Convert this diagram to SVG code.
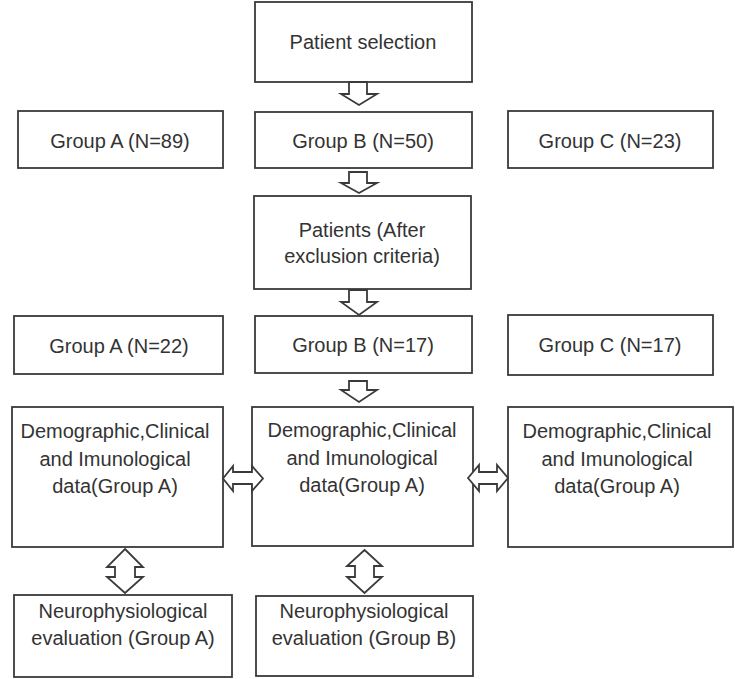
<svg xmlns="http://www.w3.org/2000/svg" width="735" height="679" viewBox="0 0 735 679">
<style>
.box{fill:#fff;stroke:#3a3a3a;stroke-width:1.8}
.arr{fill:#fff;stroke:#3a3a3a;stroke-width:1.8;stroke-linejoin:miter}
text{font-family:"Liberation Sans",Arial,sans-serif;font-size:20px;fill:#333;text-anchor:middle}
</style>
<rect width="735" height="679" fill="#fff"/>
<g id="patient-selection"><rect class="box" x="255" y="2" width="217" height="80"/><text x="363" y="49">Patient selection</text></g>
<g id="groupA-89"><rect class="box" x="18" y="111" width="205" height="57"/><text x="120" y="148">Group A (N=89)</text></g>
<g id="groupB-50"><rect class="box" x="255" y="112" width="217" height="56"/><text x="363" y="148">Group B (N=50)</text></g>
<g id="groupC-23"><rect class="box" x="508" y="111" width="205" height="57"/><text x="610" y="148">Group C (N=23)</text></g>
<g id="patients"><rect class="box" x="254" y="196" width="217" height="93"/><text x="362" y="237">Patients (After</text><text x="362" y="263">exclusion criteria)</text></g>
<g id="groupA-22"><rect class="box" x="14" y="316" width="209" height="58"/><text x="119" y="353">Group A (N=22)</text></g>
<g id="groupB-17"><rect class="box" x="255" y="316" width="217" height="57"/><text x="363" y="352">Group B (N=17)</text></g>
<g id="groupC-17"><rect class="box" x="508" y="315" width="205" height="60"/><text x="610" y="352">Group C (N=17)</text></g>
<g id="demo-left"><rect class="box" x="12" y="407" width="211" height="140"/><text x="115" y="438">Demographic,Clinical</text><text x="115" y="466">and Imunological</text><text x="115" y="493">data(Group A)</text></g>
<g id="demo-mid"><rect class="box" x="252" y="407" width="221" height="139"/><text x="362" y="437">Demographic,Clinical</text><text x="362" y="465">and Imunological</text><text x="362" y="492">data(Group A)</text></g>
<g id="demo-right"><rect class="box" x="508" y="407" width="225" height="140"/><text x="617" y="438">Demographic,Clinical</text><text x="617" y="466">and Imunological</text><text x="617" y="493">data(Group A)</text></g>
<g id="neuro-A"><rect class="box" x="14" y="595" width="218" height="82"/><text x="123" y="618">Neurophysiological</text><text x="123" y="645">evaluation (Group A)</text></g>
<g id="neuro-B"><rect class="box" x="256" y="596" width="217" height="80"/><text x="364" y="618">Neurophysiological</text><text x="364" y="645">evaluation (Group B)</text></g>
<g id="connectors">
<polygon class="arr" points="349,82 367,82 367,94 377,94 359,105 341,94 349,94"/>
<polygon class="arr" points="349,172 367,172 367,183 377,183 359,193 341,183 349,183"/>
<polygon class="arr" points="349,290 367,290 367,302 377,302 359,315 341,302 349,302"/>
<polygon class="arr" points="349,381 367,381 367,390 377,390 359,402 341,390 349,390"/>
<polygon class="arr" points="223,478.5 233,466 233,472 252,472 252,466 263,478.5 252,491 252,484 233,484 233,491"/>
<polygon class="arr" points="468,478 479,465 479,472 497,472 497,465 508,478 497,491 497,484 479,484 479,491"/>
<polygon class="arr" points="364.5,550 382,566 374,566 374,577 382,577 364.5,593 347,577 355,577 355,566 347,566"/>
<polygon class="arr" points="125,549 143,567 135,567 135,577 143,577 125,593 107,577 115,577 115,567 107,567"/>
</g>
</svg>
